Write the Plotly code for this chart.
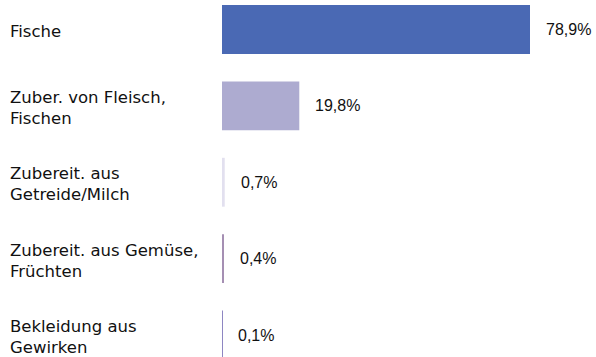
import plotly.graph_objects as go

# Anteile der Warengruppen (in %)
categories = [
    "Fische",
    "Zuber. von Fleisch,<br>Fischen",
    "Zubereit. aus<br>Getreide/Milch",
    "Zubereit. aus Gemüse,<br>Früchten",
    "Bekleidung aus<br>Gewirken",
]
values = [78.9, 19.8, 0.7, 0.4, 0.1]
value_labels = ["78,9%", "19,8%", "0,7%", "0,4%", "0,1%"]
bar_colors = ["#4A69B4", "#ADABD0", "#E2E0EF", "#A58FB3", "#8E86C2"]

W, H = 596, 357
left = 222
plot_w = W - left
px_per_unit = 308 / 78.9
x_max = plot_w / px_per_unit

fig = go.Figure(
    go.Bar(
        x=values,
        y=list(range(len(categories))),
        orientation="h",
        marker=dict(color=bar_colors, line=dict(width=0)),
        width=0.64,
        hoverinfo="skip",
    )
)

# Werte rechts neben den Balken
for i, (v, lab) in enumerate(zip(values, value_labels)):
    fig.add_annotation(
        x=v, y=i, xref="x", yref="y",
        text=lab, showarrow=False,
        xanchor="left", yanchor="middle", xshift=14,
        font=dict(family="Liberation Sans, Arial, sans-serif", size=16, color="#111111"),
    )

# Kategorienamen linksbündig am Rand
for i, cat in enumerate(categories):
    fig.add_annotation(
        x=(8 - left) / plot_w, y=i, xref="paper", yref="y",
        text=cat, showarrow=False, align="left",
        xanchor="left", yanchor="middle", yshift=-2,
        font=dict(family="DejaVu Sans, sans-serif", size=16.5, color="#111111"),
    )

fig.update_layout(
    width=W, height=H,
    margin=dict(l=left, r=0, t=0, b=0),
    paper_bgcolor="white", plot_bgcolor="white",
    showlegend=False,
    xaxis=dict(range=[0, x_max], visible=False, fixedrange=True),
    yaxis=dict(range=[4.288, -0.386], visible=False, fixedrange=True),
)

fig.write_html("out.html")
